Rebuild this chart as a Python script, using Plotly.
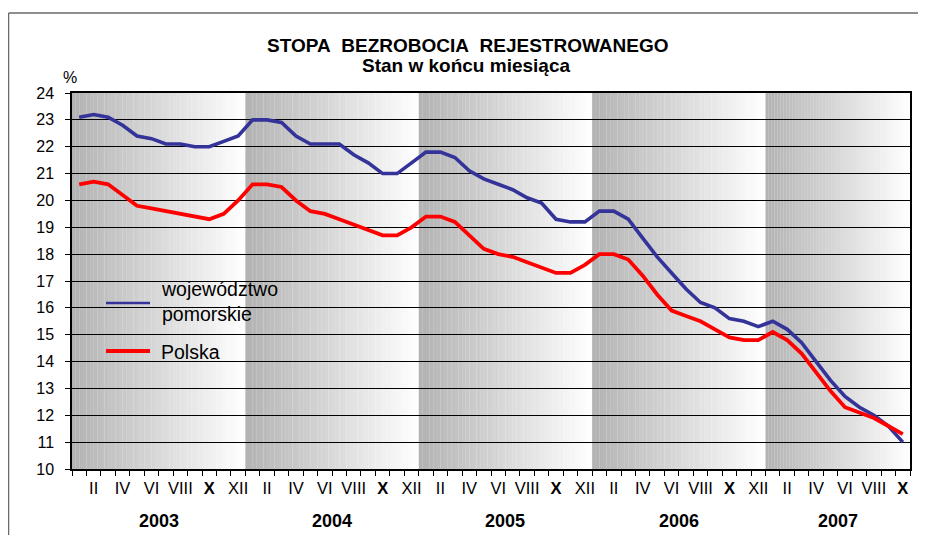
import plotly.graph_objects as go

# ---------------- data ----------------
years = ["2003", "2004", "2005", "2006", "2007"]
months_per_year = [12, 12, 12, 12, 10]
month_labels = ["I", "II", "III", "IV", "V", "VI", "VII", "VIII", "IX", "X", "XI", "XII"]

pomorskie = [23.1, 23.2, 23.1, 22.8, 22.4, 22.3, 22.1, 22.1, 22.0, 22.0, 22.2, 22.4,
             23.0, 23.0, 22.9, 22.4, 22.1, 22.1, 22.1, 21.7, 21.4, 21.0, 21.0, 21.4,
             21.8, 21.8, 21.6, 21.1, 20.8, 20.6, 20.4, 20.1, 19.9, 19.3, 19.2, 19.2,
             19.6, 19.6, 19.3, 18.6, 17.9, 17.3, 16.7, 16.2, 16.0, 15.6, 15.5, 15.3,
             15.5, 15.2, 14.7, 14.0, 13.3, 12.7, 12.3, 12.0, 11.6, 11.0]

polska = [20.6, 20.7, 20.6, 20.2, 19.8, 19.7, 19.6, 19.5, 19.4, 19.3, 19.5, 20.0,
          20.6, 20.6, 20.5, 20.0, 19.6, 19.5, 19.3, 19.1, 18.9, 18.7, 18.7, 19.0,
          19.4, 19.4, 19.2, 18.7, 18.2, 18.0, 17.9, 17.7, 17.5, 17.3, 17.3, 17.6,
          18.0, 18.0, 17.8, 17.2, 16.5, 15.9, 15.7, 15.5, 15.2, 14.9, 14.8, 14.8,
          15.1, 14.8, 14.3, 13.6, 12.9, 12.3, 12.1, 11.9, 11.6, 11.3]

series_names = ["województwo<br>pomorskie", "Polska"]
y_min, y_max = 10, 24

# ---------------- derived ----------------
n = len(pomorskie)
x = list(range(n))
tickvals, ticktext = [], []
for i in range(n):
    m = i % 12
    if m % 2 == 1:
        lab = month_labels[m]
        tickvals.append(i)
        ticktext.append("<b>X</b>" if lab == "X" else lab)

FONT = "Arial, Liberation Sans, sans-serif"
BLUE = "#333399"
RED = "#ff0000"

# page is rendered with an 8px body margin -> figure is 8px smaller than the window
OFF = 8
W, H = 926 - OFF, 535 - OFF
L, T, PW, PH = 72 - OFF, 93 - OFF, 838, 376

fig = go.Figure()
fig.add_trace(go.Scatter(x=x, y=pomorskie, mode="lines", name="województwo pomorskie",
                         line=dict(color=BLUE, width=3.6), showlegend=False))
fig.add_trace(go.Scatter(x=x, y=polska, mode="lines", name="Polska",
                         line=dict(color=RED, width=3.8), showlegend=False))

# gradient year bands (strips)
shapes = []
start = 0
N = 48
c0, c1 = 178, 255
for yi, cnt in enumerate(months_per_year):
    x0 = start - 0.5
    x1 = start + cnt - 0.5
    w = (x1 - x0) / N
    for j in range(N):
        c = int(round(c0 + (c1 - c0) * (j + 0.5) / N))
        shapes.append(dict(type="rect", xref="x", yref="y", layer="below",
                           x0=x0 + j * w, x1=x0 + (j + 1) * w + 0.01, y0=y_min, y1=y_max,
                           fillcolor=f"rgb({c},{c},{c})", line=dict(width=0)))
    start += cnt


def px_x(p):  # page pixel -> paper x
    return (p - 72) / PW


def px_y(p):  # page pixel -> paper y
    return (469 - p) / PH


# outer chart frame (top and left edges visible)
shapes.append(dict(type="line", xref="paper", yref="paper", layer="above",
                   x0=px_x(8.6), x1=px_x(926), y0=px_y(13), y1=px_y(13),
                   line=dict(color="#6a6a6a", width=1.3)))
shapes.append(dict(type="line", xref="paper", yref="paper", layer="above",
                   x0=px_x(8.6), x1=px_x(8.6), y0=px_y(13), y1=px_y(535),
                   line=dict(color="#6a6a6a", width=1.3)))

# legend (manual)
shapes.append(dict(type="line", xref="paper", yref="paper", layer="above",
                   x0=px_x(106), x1=px_x(150), y0=px_y(303), y1=px_y(303),
                   line=dict(color=BLUE, width=2.5)))
shapes.append(dict(type="line", xref="paper", yref="paper", layer="above",
                   x0=px_x(106), x1=px_x(150), y0=px_y(351), y1=px_y(351),
                   line=dict(color=RED, width=4)))

annotations = [
    dict(text=series_names[0], xref="paper", yref="paper", x=px_x(159), y=px_y(301),
         xanchor="left", yanchor="middle", showarrow=False, align="left",
         font=dict(family=FONT, size=19.5, color="black")),
    dict(text=series_names[1], xref="paper", yref="paper", x=px_x(159), y=px_y(352),
         xanchor="left", yanchor="middle", showarrow=False, align="left",
         font=dict(family=FONT, size=19.5, color="black")),
    dict(text="%", xref="paper", yref="paper", x=px_x(70), y=px_y(78),
         xanchor="center", yanchor="middle", showarrow=False,
         font=dict(family=FONT, size=16, color="black")),
    dict(text="<b>STOPA\u00a0 BEZROBOCIA\u00a0 REJESTROWANEGO</b>", xref="paper", yref="paper",
         x=px_x(468), y=px_y(45), xanchor="center", yanchor="middle", showarrow=False,
         font=dict(family=FONT, size=19, color="black")),
    dict(text="<b>Stan w końcu miesiąca</b>", xref="paper", yref="paper",
         x=px_x(466), y=px_y(66), xanchor="center", yanchor="middle", showarrow=False,
         font=dict(family=FONT, size=19, color="black")),
]
start = 0
for yr, cnt in zip(years, months_per_year):
    annotations.append(dict(text=f"<b>{yr}</b>", xref="x", yref="paper",
                            x=start + (cnt - 1) / 2, y=px_y(521), xanchor="center",
                            yanchor="middle", showarrow=False,
                            font=dict(family=FONT, size=18, color="black")))
    start += cnt

fig.update_layout(
    width=W, height=H,
    margin=dict(l=L, r=W - L - PW, t=T, b=H - T - PH, autoexpand=False),
    paper_bgcolor="white",
    plot_bgcolor="rgba(0,0,0,0)",
    font=dict(family=FONT, size=16, color="black"),
    shapes=shapes,
    annotations=annotations,
    showlegend=False,
)
fig.update_xaxes(
    range=[-0.5, n - 0.5], tickmode="array", tickvals=tickvals, ticktext=ticktext,
    ticks="", showgrid=False, zeroline=False,
    showline=True, linecolor="black", linewidth=1.5, mirror=True,
    tickfont=dict(family=FONT, size=16.5, color="black"), ticklabelstandoff=3,
    minor=dict(tickmode="array", tickvals=[i - 0.5 for i in range(n + 1)],
               ticks="outside", ticklen=5, tickcolor="black", tickwidth=1.2, showgrid=False),
)
fig.update_yaxes(
    range=[y_min, y_max], dtick=1, tick0=10, showgrid=True, gridcolor="black", gridwidth=1,
    zeroline=False, showline=True, linecolor="black", linewidth=1.5, mirror=True,
    ticks="outside", ticklen=5, tickcolor="black", tickwidth=1.2, ticklabelstandoff=8,
    tickfont=dict(family=FONT, size=16, color="black"),
)

fig.write_html("out.html")
